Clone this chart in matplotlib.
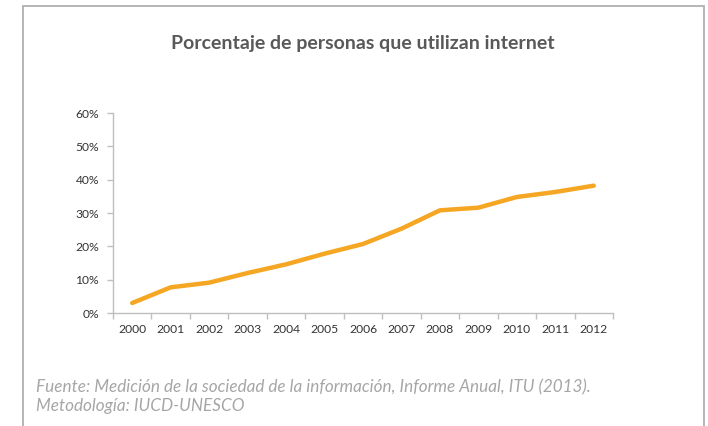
import matplotlib
matplotlib.use('Agg')
import matplotlib.pyplot as plt
import matplotlib.patches as patches
import numpy as np

# datos
years = ['2000', '2001', '2002', '2003', '2004', '2005', '2006',
         '2007', '2008', '2009', '2010', '2011', '2012']
pct = [3.0, 7.7, 9.1, 12.0, 14.6, 17.8, 20.7, 25.3, 30.8, 31.6, 34.8, 36.3, 38.2]
yticks = [0, 10, 20, 30, 40, 50, 60]

plt.rcParams['font.family'] = ['Lato', 'DejaVu Sans']

W, H = 708, 426
fig = plt.figure(figsize=(W / 100, H / 100), dpi=100)
ax = fig.add_axes([113 / W, 1 - 313 / H, 500 / W, 200 / H])

x = np.arange(len(years))
ax.plot(x, pct, color='#F5A623', lw=3.2, solid_capstyle='round', solid_joinstyle='round')

ax.set_xlim(-0.5, len(years) - 0.5)
ax.set_ylim(0, 60)
ax.set_yticks(yticks)
ax.set_yticklabels([str(v) + '%' for v in yticks])
ax.set_xticks(x)
ax.set_xticklabels(years)
ax.set_xticks(np.arange(-0.5, len(years)), minor=True)

for s in ['top', 'right']:
    ax.spines[s].set_visible(False)
for s in ['left', 'bottom']:
    ax.spines[s].set_color('#BFBFBF')
    ax.spines[s].set_linewidth(1.0)

ax.tick_params(axis='x', which='major', length=0, pad=8, labelsize=8.7, labelcolor='#333333')
ax.tick_params(axis='x', which='minor', length=4, color='#BFBFBF', width=1)
ax.tick_params(axis='y', length=4, color='#BFBFBF', width=1, pad=6, labelsize=8.7, labelcolor='#333333')

fig.text(363 / W, 1 - 43 / H, 'Porcentaje de personas que utilizan internet',
         ha='center', va='center', fontsize=14, fontweight='bold', color='#595959')

fig.text(36 / W, 1 - 387 / H,
         'Fuente: Medición de la sociedad de la información, Informe Anual, ITU (2013).',
         ha='left', va='center', fontsize=12.3, style='italic', color='#A6A6A6')
fig.text(36 / W, 1 - 406 / H, 'Metodología: IUCD-UNESCO',
         ha='left', va='center', fontsize=12.3, style='italic', color='#A6A6A6')

# marco gris del cuadro
frame = patches.Rectangle((23 / W, -0.1), (704 - 23) / W, 1.1 - 6 / H,
                          transform=fig.transFigure, fill=False,
                          edgecolor='#B0B0B0', lw=1.3, clip_on=False)
fig.patches.append(frame)

fig.savefig('out.png', dpi=100)
